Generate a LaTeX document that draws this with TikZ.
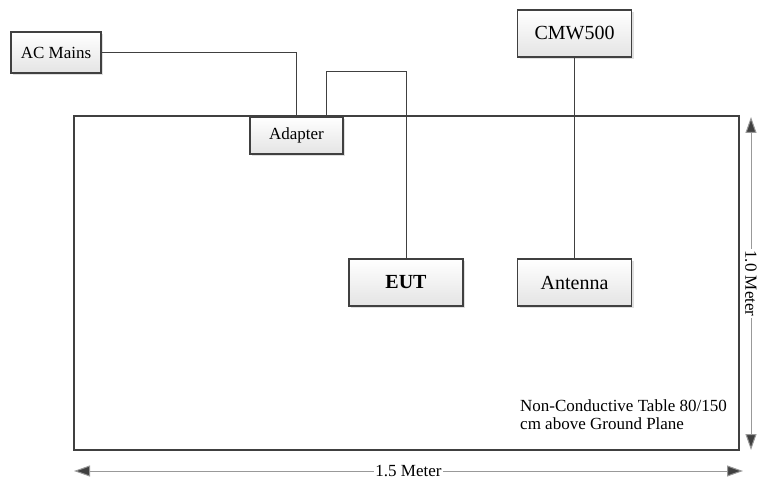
\documentclass[tikz,border=0pt]{standalone}
\usepackage{fontspec}
\setmainfont{Liberation Serif}
\usetikzlibrary{shadows,arrows.meta}
\definecolor{box_line}{RGB}{64, 64, 64}
\definecolor{box_bottom}{RGB}{228, 228, 228}
\tikzstyle{dev}=[rectangle,top color=white,bottom color=box_bottom,draw=box_line,
  line width=1.3pt,inner sep=2pt,
  drop shadow={shadow xshift=2pt,shadow yshift=-2pt,opacity=0.25}]
\tikzstyle{devsmall}=[dev,font=\fontsize{17}{19}\selectfont]
\tikzstyle{devbig}=[dev,font=\fontsize{20}{22}\selectfont,minimum width=114pt,minimum height=47pt]
\tikzstyle{wire}=[draw=box_line,line width=1pt]
\tikzstyle{dim}=[draw=gray!80,line width=1pt,
  {Triangle[length=16pt,width=11pt,fill=box_line]}-{Triangle[length=16pt,width=11pt,fill=box_line]}]
\tikzstyle{dimlabel}=[fill=white,inner sep=1pt,font=\fontsize{17}{19}\selectfont]

\begin{document}
\begin{tikzpicture}[x=1pt,y=-1pt]
    \useasboundingbox (0,0) rectangle (761,481);
    \node [draw=box_line,line width=2.3pt,minimum width=665pt,minimum height=334pt,inner sep=0pt] (table) at (406.5,283) {};
    \node [style=devsmall,minimum width=90pt,minimum height=41pt] (acmains) at (56,52.5) {AC Mains};
    \node [style=devsmall,minimum width=93pt,minimum height=37pt] (adapter) at (296.5,135.5) {Adapter};
    \node [style=devbig] (eut) at (406,282.5) {\textbf{EUT}};
    \node [style=devbig] (antenna) at (574.5,282.5) {Antenna};
    \node [style=devbig] (cmw) at (574.5,33.5) {CMW500};
    \node [anchor=north west,align=left,inner sep=0pt,font=\fontsize{17}{18}\selectfont] (note) at (520,400) {Non-Conductive Table 80/150\\cm above Ground Plane};
    \coordinate (bend) at (406,72);
    \coordinate (hl) at (74,471);
    \coordinate (hr) at (743,471);
    \coordinate (vt) at (751,117);
    \coordinate (vb) at (751,450);
    \draw [style=wire] (acmains.east) -| (adapter.north);
    \draw [style=wire] ([xshift=30pt]adapter.north) |- (bend) -- (eut.north);
    \draw [style=wire] (cmw.south) -- (antenna.north);
    \draw [style=dim] (hl) -- node [style=dimlabel] (hlabel) {1.5 Meter} (hr);
    \draw [style=dim] (vt) -- node [style=dimlabel,rotate=-90] (vlabel) {1.0 Meter} (vb);
  \end{tikzpicture}
\end{document}
